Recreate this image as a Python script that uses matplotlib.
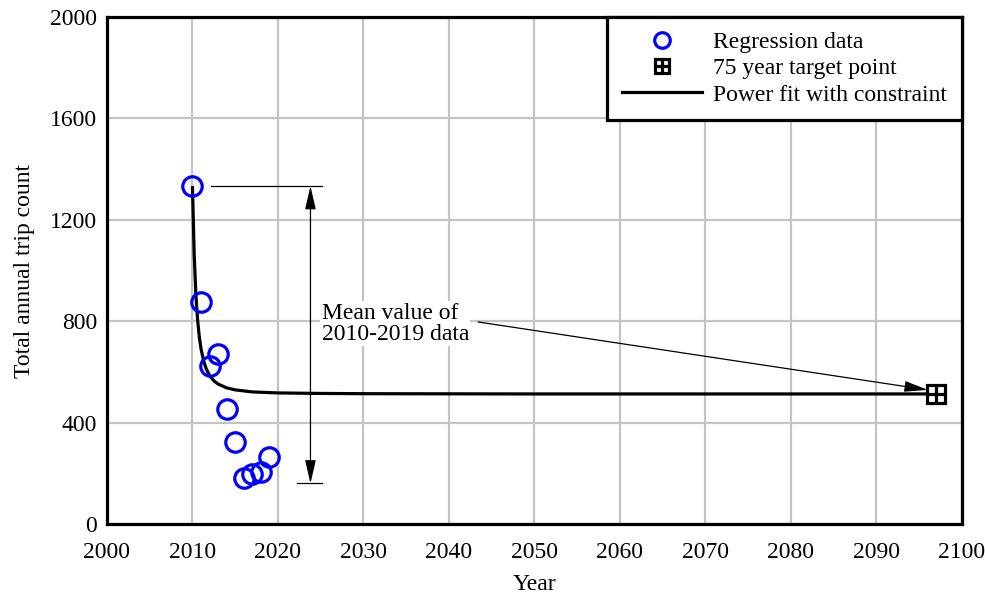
import matplotlib.pyplot as plt
from matplotlib.legend_handler import HandlerTuple

plt.rcParams['font.family'] = ['Liberation Serif', 'DejaVu Serif']

# annual trip counts used in the regression
years = [2010, 2011, 2012, 2013, 2014, 2015, 2016, 2017, 2018, 2019]
trips = [1333, 876, 623, 671, 454, 323, 181, 197, 205, 264]

# 75 year target point (mean of the 2010-2019 data)
target_year = 2097
target_value = 513

# constrained power fit, sampled along the curve
fit_years = [2010, 2010.2, 2010.4, 2010.6, 2010.8, 2011, 2011.3, 2011.6, 2012,
             2012.5, 2013, 2014, 2015, 2017, 2020, 2025, 2030, 2050, 2097]
fit_trips = [1333, 1062, 904, 805, 738, 691, 644, 613, 586,
             565, 552, 537, 529, 521, 517, 515, 514, 513, 513]

# range bracket for the annotation
bracket_year = 2023.8
bracket_top = 1333
bracket_bottom = 160

FS = 17
arrow = dict(arrowstyle='-|>,head_length=0.65,head_width=0.15', color='black',
             lw=0.9, mutation_scale=22, shrinkA=0, shrinkB=0)

fig = plt.figure(figsize=(9.85, 5.97), dpi=100)
ax = fig.add_axes([0.1086, 0.1223, 0.868, 0.8492])

ax.plot(fit_years, fit_trips, color='black', lw=2.3, zorder=3,
        solid_capstyle='butt')
circ, = ax.plot(years, trips, 'o', ms=14, mfc='none', mec='blue', mew=2.3,
                zorder=4)
sq, = ax.plot(target_year, target_value, 's', ms=13, mfc='white', mec='black',
              mew=2.3, zorder=5)
plus, = ax.plot(target_year, target_value, '+', ms=13, mec='black', mew=2.3,
                zorder=6)
fit_line, = ax.plot([], [], color='black', lw=2.3)

# bracket showing the spread of the data
ax.plot([2012.2, 2025.1], [bracket_top, bracket_top], color='black', lw=0.9)
ax.plot([2022.2, 2025.1], [bracket_bottom, bracket_bottom], color='black',
        lw=0.9)
ax.annotate('', xy=(bracket_year, bracket_top), xytext=(bracket_year, 650),
            arrowprops=arrow)
ax.annotate('', xy=(bracket_year, bracket_bottom), xytext=(bracket_year, 650),
            arrowprops=arrow)

ax.annotate('', xy=(2096.0, 529), xytext=(2043.4, 797), arrowprops=arrow)
ax.text(2025.1, 790, 'Mean value of\n2010-2019 data', fontsize=FS,
        va='center', ha='left', linespacing=1.0, zorder=7,
        bbox=dict(facecolor='white', edgecolor='none', pad=1))

ax.set_xlim(2000, 2100)
ax.set_ylim(0, 2000)
ax.set_xticks(range(2000, 2101, 10))
ax.set_yticks(range(0, 2001, 400))
ax.tick_params(length=0, labelsize=FS)
ax.tick_params(axis='x', pad=13)
ax.tick_params(axis='y', pad=7)
ax.grid(True, color='#c4c4c4', lw=1.6)
ax.set_axisbelow(True)
for s in ax.spines.values():
    s.set_linewidth(2.3)
    s.set_zorder(8)

ax.set_xlabel('Year', fontsize=FS, labelpad=8)
ax.set_ylabel('Total annual trip count', fontsize=FS, labelpad=11)

leg = ax.legend([circ, (sq, plus), fit_line],
                ['Regression data', '75 year target point',
                 'Power fit with constraint'],
                handler_map={tuple: HandlerTuple()},
                loc='upper right', fontsize=FS, handlelength=3.4,
                handletextpad=0.47, borderaxespad=0, labelspacing=0.2,
                borderpad=0.62, fancybox=False, framealpha=1,
                edgecolor='black', markerscale=0.8)
leg.get_frame().set_linewidth(2.3)
leg.set_zorder(9)

fig.savefig('out.png', dpi=100)
